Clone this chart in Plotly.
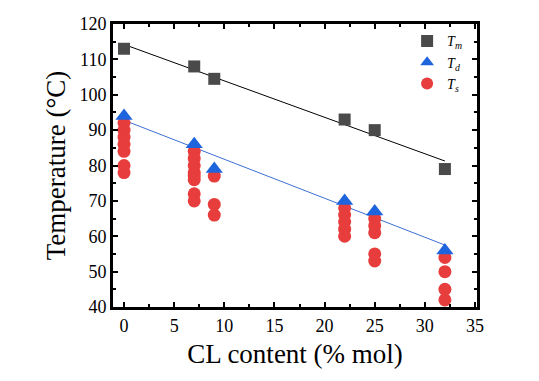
import numpy as np
import plotly.graph_objects as go

# Data
cl_tm = [0, 7, 9, 22, 25, 32]
tm = [113, 108, 104.5, 93, 90, 79]

cl_td = [0, 7, 9, 22, 25, 32]
td = [94, 86, 79, 70, 67, 56]

cl_ts = [0, 0, 0, 0, 0, 0, 0,
         7, 7, 7, 7, 7, 7, 7, 7,
         9, 9, 9,
         22, 22, 22, 22, 22,
         25, 25, 25, 25, 25,
         32, 32, 32, 32]
ts = [92, 90, 88, 86, 84, 80, 78,
      84, 82, 80, 78, 77, 76, 72, 70,
      77, 69, 66,
      68, 66, 64, 62, 60,
      65, 63, 61, 55, 53,
      54, 50, 45, 42]

x_ticks = [0, 5, 10, 15, 20, 25, 30, 35]
y_ticks = [40, 50, 60, 70, 80, 90, 100, 110, 120]

# Linear fits computed from data
p_tm = np.polyfit(cl_tm, tm, 1)
p_td = np.polyfit(cl_td, td, 1)
xf = np.array([min(cl_tm), max(cl_tm)])

FF = "Times New Roman, Liberation Serif, serif"

fig = go.Figure()
fig.add_trace(go.Scatter(x=xf, y=np.polyval(p_tm, xf), mode="lines",
                         line=dict(color="black", width=1), showlegend=False))
fig.add_trace(go.Scatter(x=xf, y=np.polyval(p_td, xf), mode="lines",
                         line=dict(color="#3b6fd4", width=1), showlegend=False))
fig.add_trace(go.Scatter(x=cl_ts, y=ts, mode="markers", name="<i>T<sub>s</sub></i>",
                         marker=dict(symbol="circle", size=13, color="#e83d3d"),
                         legendrank=3))
fig.add_trace(go.Scatter(x=cl_td, y=td, mode="markers", name="<i>T<sub>d</sub></i>",
                         marker=dict(symbol="triangle-up", size=15, color="#1e64dc"),
                         legendrank=2))
fig.add_trace(go.Scatter(x=cl_tm, y=tm, mode="markers", name="<i>T<sub>m</sub></i>",
                         marker=dict(symbol="square", size=12, color="#4a4a4a"),
                         legendrank=1))

fig.update_layout(
    width=531, height=373,
    margin=dict(l=105, r=62, t=6, b=74),
    paper_bgcolor="white", plot_bgcolor="white",
    font=dict(family=FF, color="black", size=18),
    legend=dict(x=0.808, y=0.995, xanchor="left", yanchor="top",
                bgcolor="rgba(0,0,0,0)", font=dict(family=FF, size=14),
                itemsizing="constant", tracegroupgap=0),
    showlegend=True,
)
fig.update_xaxes(
    range=[-1.1, 35.2], tickvals=x_ticks, ticktext=[str(v) for v in x_ticks],
    showgrid=False, zeroline=False,
    showline=True, linecolor="black", linewidth=3, mirror="ticks",
    ticks="inside", ticklen=5, tickwidth=2, tickcolor="black",
    minor=dict(ticks="inside", dtick=2.5, ticklen=3, tickwidth=2, tickcolor="black"),
    title=dict(text="CL content (% mol)", font=dict(family=FF, size=27), standoff=10),
    tickfont=dict(family=FF, size=18), ticklabeloverflow="allow",
)
fig.update_yaxes(
    range=[40, 120], tickvals=y_ticks, ticktext=[str(v) for v in y_ticks],
    showgrid=False, zeroline=False,
    showline=True, linecolor="black", linewidth=3, mirror="ticks",
    ticks="inside", ticklen=5, tickwidth=2, tickcolor="black",
    minor=dict(ticks="inside", dtick=5, ticklen=3, tickwidth=2, tickcolor="black"),
    title=dict(text="Temperature (°C)", font=dict(family=FF, size=27), standoff=6),
    tickfont=dict(family=FF, size=18), ticklabeloverflow="allow",
)

fig.write_html("out.html")
